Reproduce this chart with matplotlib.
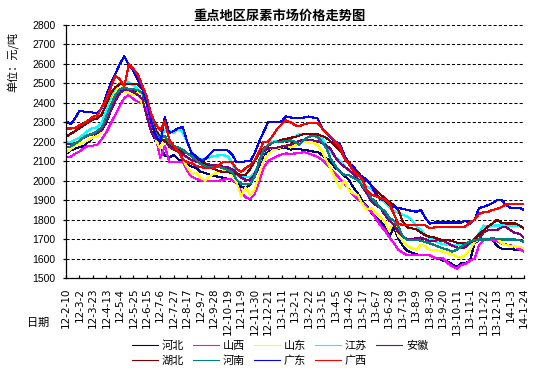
import matplotlib
matplotlib.use('Agg')
import matplotlib.pyplot as plt
import numpy as np

plt.rcParams['font.family'] = ['Noto Sans CJK SC', 'DejaVu Sans']

# x tick labels (every third week)
tick_labels = ['12-2-10', '12-3-2', '12-3-23', '12-4-13', '12-5-4', '12-5-25', '12-6-15',
               '12-7-6', '12-7-27', '12-8-17', '12-9-7', '12-9-28', '12-10-19', '12-11-9',
               '12-11-30', '12-12-21', '13-1-11', '13-2-1', '13-2-22', '13-3-15', '13-4-5',
               '13-4-26', '13-5-17', '13-6-7', '13-6-28', '13-7-19', '13-8-9', '13-8-30',
               '13-9-20', '13-10-11', '13-11-1', '13-11-22', '13-12-13', '14-1-3', '14-1-24']

# weekly prices, yuan/ton
hebei = [2137, 2155, 2165, 2172, 2178, 2200, 2222, 2238, 2262, 2300,
         2360, 2420, 2455, 2470, 2472, 2470, 2455, 2410, 2350, 2260,
         2200, 2172, 2130, 2120, 2132, 2110, 2095, 2085, 2072, 2065,
         2045, 2040, 2030, 2025, 2020, 2015, 2010, 2005, 1990, 1970,
         1962, 1980, 2020, 2075, 2130, 2148, 2158, 2163, 2168, 2168,
         2160, 2165, 2162, 2158, 2155, 2150, 2148, 2132, 2115, 2095,
         2065, 2048, 2025, 2005, 1965, 1935, 1895, 1870, 1835, 1815,
         1790, 1765, 1712, 1760, 1705, 1665, 1640, 1630, 1622, 1617,
         1617, 1617, 1605, 1598, 1590, 1585, 1570, 1558, 1575, 1575,
         1590, 1680, 1695, 1703, 1700, 1694, 1665, 1651, 1651, 1648,
         1646, 1645, 1638]

shanxi = [2120, 2122, 2138, 2150, 2168, 2180, 2180, 2185, 2215, 2250,
          2295, 2340, 2385, 2425, 2440, 2420, 2405, 2395, 2365, 2290,
          2225, 2115, 2180, 2098, 2098, 2098, 2098, 2050, 2020, 2010,
          2000, 2000, 2000, 2000, 2000, 2005, 2010, 2005, 1985, 1940,
          1915, 1905, 1930, 1995, 2065, 2100, 2115, 2125, 2135, 2140,
          2138, 2140, 2142, 2147, 2140, 2132, 2122, 2108, 2085, 2060,
          2035, 2010, 1985, 1955, 1925, 1905, 1885, 1862, 1840, 1805,
          1770, 1746, 1710, 1680, 1645, 1630, 1617, 1617, 1617, 1617,
          1617, 1617, 1605, 1602, 1600, 1575, 1560, 1548, 1568, 1572,
          1590, 1600, 1670, 1695, 1695, 1695, 1688, 1678, 1672, 1668,
          1660, 1648, 1636]

shandong = [2145, 2160, 2180, 2190, 2197, 2210, 2222, 2230, 2257, 2330,
            2410, 2455, 2510, 2460, 2450, 2440, 2455, 2390, 2425, 2310,
            2205, 2165, 2222, 2162, 2160, 2150, 2110, 2070, 2035, 2040,
            2015, 2000, 2025, 2035, 2045, 2048, 2045, 2030, 1990, 1920,
            1965, 1925, 1955, 2030, 2100, 2135, 2155, 2165, 2172, 2185,
            2170, 2180, 2195, 2200, 2195, 2195, 2185, 2150, 2105, 2060,
            2010, 1960, 2000, 1950, 1935, 1925, 1880, 1850, 1860, 1835,
            1810, 1790, 1740, 1795, 1715, 1690, 1665, 1655, 1645, 1670,
            1665, 1645, 1645, 1640, 1635, 1628, 1622, 1610, 1605, 1620,
            1645, 1685, 1700, 1705, 1705, 1705, 1700, 1680, 1668, 1665,
            1662, 1660, 1652]

jiangsu = [2197, 2197, 2210, 2222, 2240, 2258, 2272, 2274, 2300, 2360,
           2430, 2480, 2500, 2505, 2505, 2490, 2472, 2445, 2410, 2330,
           2260, 2232, 2258, 2255, 2245, 2265, 2250, 2195, 2145, 2125,
           2110, 2115, 2120, 2128, 2130, 2130, 2128, 2090, 2030, 2020,
           2018, 2018, 2040, 2090, 2145, 2185, 2200, 2205, 2205, 2210,
           2215, 2225, 2240, 2240, 2240, 2240, 2235, 2220, 2180, 2145,
           2120, 2100, 2075, 2050, 2035, 2010, 1990, 1970, 1958, 1935,
           1905, 1890, 1866, 1845, 1835, 1825, 1815, 1800, 1765, 1748,
           1725, 1705, 1690, 1680, 1675, 1670, 1670, 1670, 1670, 1670,
           1675, 1700, 1730, 1770, 1760, 1770, 1770, 1770, 1770, 1770,
           1770, 1768, 1760]

anhui = [2188, 2188, 2190, 2205, 2222, 2232, 2238, 2245, 2260, 2310,
         2360, 2410, 2450, 2470, 2465, 2455, 2440, 2420, 2330, 2250,
         2215, 2205, 2210, 2175, 2160, 2150, 2135, 2120, 2105, 2098,
         2092, 2088, 2082, 2080, 2075, 2072, 2068, 2060, 2040, 2015,
         2005, 2005, 2035, 2090, 2150, 2165, 2168, 2170, 2175, 2180,
         2185, 2195, 2205, 2210, 2210, 2207, 2203, 2195, 2182, 2160,
         2120, 2090, 2072, 2055, 2035, 2010, 1970, 1935, 1895, 1875,
         1860, 1825, 1795, 1775, 1735, 1712, 1700, 1698, 1705, 1708,
         1700, 1688, 1692, 1694, 1690, 1680, 1666, 1658, 1652, 1660,
         1685, 1692, 1700, 1735, 1746, 1746, 1746, 1760, 1762, 1746,
         1730, 1728, 1705]

hubei = [2225, 2240, 2255, 2270, 2285, 2300, 2315, 2320, 2340, 2395,
         2450, 2480, 2497, 2497, 2497, 2497, 2497, 2470, 2400, 2330,
         2260, 2220, 2200, 2190, 2175, 2160, 2150, 2140, 2130, 2115,
         2100, 2085, 2070, 2060, 2050, 2045, 2045, 2040, 2035, 2030,
         2030, 2060, 2100, 2140, 2165, 2180, 2195, 2200, 2210, 2215,
         2220, 2225, 2232, 2240, 2242, 2242, 2238, 2230, 2220, 2200,
         2180, 2155, 2125, 2095, 2065, 2045, 2015, 2000, 1975, 1950,
         1930, 1910, 1890, 1875, 1850, 1790, 1760, 1755, 1750, 1735,
         1720, 1712, 1708, 1700, 1695, 1695, 1690, 1682, 1680, 1680,
         1680, 1700, 1725, 1745, 1765, 1780, 1800, 1782, 1780, 1780,
         1780, 1770, 1755]

henan = [2170, 2175, 2190, 2205, 2225, 2235, 2242, 2255, 2275, 2330,
         2390, 2440, 2470, 2478, 2472, 2470, 2465, 2450, 2394, 2310,
         2240, 2215, 2230, 2195, 2180, 2170, 2160, 2140, 2125, 2105,
         2085, 2075, 2068, 2070, 2070, 2065, 2055, 2045, 2005, 1985,
         1982, 1982, 2020, 2100, 2160, 2185, 2195, 2200, 2200, 2205,
         2207, 2200, 2185, 2210, 2225, 2232, 2225, 2200, 2165, 2110,
         2075, 2045, 2030, 2028, 2015, 2002, 1975, 1950, 1910, 1890,
         1860, 1845, 1810, 1795, 1765, 1715, 1695, 1695, 1695, 1692,
         1685, 1678, 1670, 1660, 1652, 1645, 1635, 1645, 1660, 1675,
         1688, 1695, 1698, 1698, 1698, 1705, 1700, 1698, 1698, 1698,
         1698, 1695, 1686]

guangdong = [2305, 2290, 2320, 2360, 2355, 2355, 2350, 2345, 2375, 2440,
             2500, 2550, 2600, 2640, 2595, 2565, 2520, 2470, 2400, 2300,
             2230, 2195, 2325, 2245, 2255, 2270, 2275, 2200, 2140, 2125,
             2105, 2110, 2135, 2160, 2160, 2160, 2155, 2135, 2095, 2095,
             2100, 2100, 2140, 2200, 2250, 2300, 2300, 2300, 2305, 2330,
             2325, 2320, 2320, 2325, 2330, 2325, 2320, 2270, 2245, 2220,
             2200, 2190, 2130, 2085, 2075, 2035, 2020, 2005, 1975, 1930,
             1905, 1900, 1875, 1865, 1860, 1855, 1850, 1845, 1840, 1850,
             1810, 1780, 1785, 1785, 1785, 1785, 1785, 1785, 1785, 1795,
             1780, 1800, 1860, 1865, 1875, 1885, 1900, 1900, 1875, 1860,
             1860, 1860, 1850]

guangxi = [2268, 2268, 2270, 2285, 2295, 2310, 2328, 2336, 2380, 2420,
           2480, 2540, 2520, 2485, 2600, 2575, 2545, 2490, 2430, 2340,
           2290, 2258, 2305, 2210, 2180, 2150, 2110, 2095, 2090, 2075,
           2070, 2065, 2065, 2065, 2080, 2095, 2095, 2095, 2060, 2045,
           2065, 2080, 2105, 2150, 2200, 2200, 2230, 2265, 2290, 2310,
           2300, 2285, 2280, 2290, 2295, 2298, 2298, 2270, 2245, 2225,
           2200, 2175, 2115, 2085, 2050, 2030, 2005, 1950, 1930, 1920,
           1910, 1905, 1880, 1830, 1780, 1772, 1772, 1772, 1772, 1772,
           1770, 1755, 1760, 1760, 1760, 1760, 1760, 1760, 1760, 1765,
           1785, 1800, 1830, 1838, 1840, 1850, 1855, 1865, 1878, 1880,
           1880, 1880, 1880]

names = ['河北', '山西', '山东', '江苏', '安徽', '湖北', '河南', '广东', '广西']
colors = ['#000080', '#FF00FF', '#FFFF00', '#00FFFF', '#800080',
          '#800000', '#008080', '#0000FF', '#FF0000']
data = [hebei, shanxi, shandong, jiangsu, anhui, hubei, henan, guangdong, guangxi]

fig = plt.figure(figsize=(5.53, 3.74), dpi=100)
ax = fig.add_axes([66 / 553, 96 / 374, 458 / 553, 253 / 374])

x = np.arange(len(hebei))
lines = []
for name, vals, c in zip(names, data, colors):
    ln, = ax.plot(x, vals, color=c, lw=0.8, label=name, antialiased=False)
    lines.append(ln)

ax.set_xlim(0, len(hebei) - 1)
ax.set_ylim(1500, 2800)
ax.set_yticks(np.arange(1500, 2801, 100))
ax.set_xticks(x[::3])
ax.set_xticklabels(tick_labels, rotation=90, fontsize=7.5, family='DejaVu Sans')
for lab in ax.get_yticklabels():
    lab.set_family('Liberation Sans')
    lab.set_fontsize(7.5)

ax.grid(axis='y', color='black', lw=0.75, linestyle=(0, (3, 2)))
ax.grid(axis='x', visible=False)
ax.set_axisbelow(True)
for s in ['top', 'right']:
    ax.spines[s].set_visible(False)
for s in ['left', 'bottom']:
    ax.spines[s].set_linewidth(0.9)
ax.tick_params(axis='x', direction='in', length=2.5, width=0.9, pad=7)
ax.tick_params(axis='y', direction='out', length=2.5, width=0.9, pad=5)

fig.text(280 / 553, 1 - 16 / 374, '重点地区尿素市场价格走势图', ha='center', va='center',
         fontsize=9.5, fontweight='bold')
fig.text(13 / 553, 1 - 62 / 374, '单位：元/吨', rotation=90, ha='center', va='center', fontsize=8)
fig.text(38 / 553, 1 - 323 / 374, '日期', ha='center', va='center', fontsize=8)

# legend laid out row by row like the original
order = [0, 5, 1, 6, 2, 7, 3, 8, 4]
fig.legend([lines[i] for i in order], [names[i] for i in order], loc='center',
           bbox_to_anchor=(280 / 553, 1 - 353.5 / 374), ncol=5, frameon=False,
           fontsize=8, handlelength=2.35, handletextpad=0.35, columnspacing=0.8,
           labelspacing=0.4, borderpad=0)

fig.savefig('out.png', dpi=100)
